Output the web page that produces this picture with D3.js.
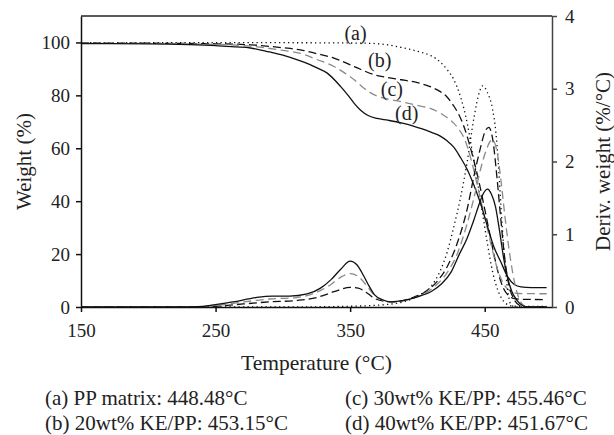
<!DOCTYPE html>
<html>
<head>
<meta charset="utf-8">
<script src="https://cdn.jsdelivr.net/npm/d3@7"></script>
<style>
  body { margin: 0; background: #fff; }
  svg { display: block; font-family: "Liberation Serif", "DejaVu Serif", serif; }
  .axis text { font-size: 19px; fill: #222; font-family: "Liberation Serif", "DejaVu Serif", serif; }
</style>
</head>
<body>
<svg width="614" height="435"></svg>
<script>
// TGA curves, weight (%) vs temperature (°C)
const tgaA = [[150,99.9],[300,99.9],[350,99.8],[363,99.7],[375,99.3],[388,98.1],[395,97.3],[402,96.4],[410,95.0],[417,92.6],[422,89.8],[427,86],[432,79.5],[437,69.5],[441,58],[445,46],[448.5,35],[452,24],[456,13],[460,6],[464,2.2],[468,0.7],[472,0.3],[496,0.2]];
const tgaB = [[150,99.8],[250,99.5],[276,99.1],[300,98],[313,97.2],[325,95.8],[338,94.1],[353,90.9],[368,87.8],[378,86.7],[388,85.9],[400,84.8],[410,83.2],[417,81.4],[422,79.4],[427,76],[431,72.5],[435,67.6],[440,59],[445,49],[450,37],[453,29.5],[456,22],[460,13],[464,7],[468,4.2],[472,3.2],[478,2.9],[496,2.8]];
const tgaC = [[150,99.8],[250,99.3],[276,98.6],[300,97],[313,95.9],[325,93.6],[338,90.9],[345,88.8],[353,85.9],[360,82.8],[368,80.2],[378,78.6],[388,77.6],[400,76.2],[410,75],[417,73.3],[422,71.6],[427,69.5],[431,67],[435,63.5],[440,55.5],[445,45],[450,34],[455,23],[460,13.5],[465,8],[470,5.8],[475,5.1],[496,5]];
const tgaD = [[150,99.6],[200,99.5],[230,99.2],[250,98.8],[265,98.3],[276,97.9],[290,96.4],[300,95.2],[313,93],[325,90.5],[333,88.4],[343,83.3],[348,80.3],[353,77],[358,74.3],[363,72.5],[370,71.3],[378,70.6],[388,69.6],[397,68.4],[403,67.4],[410,66.1],[417,64.6],[422,62.8],[427,60.4],[432,56.5],[437,52],[442,46],[447,39],[452,30.5],[457,22.5],[462,17],[467,11.5],[472,8.5],[477,7.6],[485,7.35],[496,7.3]];

// DTG curves, deriv. weight (%/°C)
const dtgA = [[150,0],[300,0],[350,0.01],[380,0.04],[400,0.15],[410,0.28],[417,0.5],[422,0.75],[427,1.1],[432,1.5],[437,2.0],[442,2.6],[446,2.95],[448.5,3.04],[452,2.95],[455.8,2.72],[458.3,2.4],[460,2.0],[462,1.4],[464,0.85],[466,0.4],[468,0.12],[470,0.02],[474,0],[496,0]];
const dtgB = [[150,0],[230,0],[250,0.01],[263,0.03],[290,0.07],[310,0.09],[325,0.13],[338,0.21],[350,0.27],[356,0.26],[362,0.2],[368,0.12],[375,0.08],[382,0.07],[395,0.12],[405,0.2],[415,0.36],[422,0.55],[430,0.9],[437,1.35],[442,1.8],[447,2.2],[450,2.4],[453,2.47],[456,2.3],[459,1.8],[462,1.2],[465,0.65],[468,0.3],[472,0.1],[476,0.02],[480,0],[496,0]];
const dtgC = [[150,0],[230,0],[250,0.02],[263,0.05],[290,0.11],[310,0.13],[322,0.18],[335,0.3],[344,0.42],[350,0.46],[356,0.42],[362,0.3],[368,0.16],[375,0.09],[382,0.07],[395,0.11],[405,0.18],[415,0.32],[422,0.47],[430,0.75],[437,1.15],[442,1.5],[447,1.9],[451,2.15],[455.5,2.3],[459,2.15],[462,1.75],[465,1.25],[468,0.8],[471,0.45],[474,0.2],[477,0.06],[480,0.01],[483,0],[496,0]];
const dtgD = [[150,0],[230,0],[245,0.02],[263,0.07],[280,0.13],[292,0.15],[305,0.15],[318,0.18],[328,0.26],[336,0.38],[343,0.52],[350,0.63],[355,0.58],[360,0.43],[364,0.29],[368,0.17],[374,0.1],[380,0.07],[390,0.09],[400,0.14],[410,0.21],[418,0.32],[425,0.48],[431,0.72],[437,0.95],[442,1.2],[446,1.42],[449,1.56],[452,1.62],[455,1.55],[458,1.38],[461,1.05],[464,0.68],[467,0.4],[470,0.22],[474,0.09],[478,0.02],[482,0],[496,0]];

const xTicks = [150, 250, 350, 450];
const yTicks = [0, 20, 40, 60, 80, 100];
const y2Ticks = [0, 1, 2, 3, 4];

// curve labels (a)-(d), placed at temperature / weight
const curveLabels = ['(a)', '(b)', '(c)', '(d)'];
const labelT = [354, 372, 381, 392];
const labelW = [103.7, 93.4, 82.3, 73.4];

const legendText = [
    '(a) PP matrix: 448.48\u00b0C',
    '(b) 20wt% KE/PP: 453.15\u00b0C',
    '(c) 30wt% KE/PP: 455.46\u00b0C',
    '(d) 40wt% KE/PP: 451.67\u00b0C'
];

const margin = { top: 16, right: 62, bottom: 128, left: 81 };
const W = 614, H = 435;
const width = W - margin.left - margin.right;
const height = H - margin.top - margin.bottom;

const svg = d3.select('svg');
const g = svg.append('g').attr('transform', `translate(${margin.left},${margin.top})`);

const x = d3.scaleLinear().domain([150, 500]).range([0, width]);
const y = d3.scaleLinear().domain([0, 110]).range([height, 0]);
const y2 = d3.scaleLinear().domain([0, 4]).range([height, 0]);

const lineW = d3.line().x(d => x(d[0])).y(d => y(d[1])).curve(d3.curveMonotoneX);
const lineD = d3.line().x(d => x(d[0])).y(d => y2(d[1])).curve(d3.curveMonotoneX);

// styles per sample
const styles = [
    { color: '#111', dash: '1.3,3.2', w: 1.3 },
    { color: '#111', dash: '8,4', w: 1.3 },
    { color: '#8a8a8a', dash: '8,4.5', w: 1.3 },
    { color: '#111', dash: null, w: 1.3 }
];

const tga = [tgaA, tgaB, tgaC, tgaD];
const dtg = [dtgA, dtgB, dtgC, dtgD];

const drawSeries = (data, gen) => {
    g.selectAll(null).data(data)
        .enter().append('path')
        .attr('d', gen)
        .attr('fill', 'none')
        .attr('stroke', (d, i) => styles[i].color)
        .attr('stroke-width', (d, i) => styles[i].w)
        .attr('stroke-dasharray', (d, i) => styles[i].dash);
};
drawSeries(tga, lineW);
drawSeries(dtg, lineD);

// frame: top line in grey
g.append('line')
    .attr('x1', 0).attr('x2', width).attr('y1', 0).attr('y2', 0)
    .attr('stroke', '#5a5a5a').attr('stroke-width', 1.8);

const xAxis = g.append('g').attr('class', 'axis')
    .attr('transform', `translate(0,${height})`)
    .call(d3.axisBottom(x).tickValues(xTicks).tickSize(5).tickSizeOuter(0).tickPadding(12));

const yAxis = g.append('g').attr('class', 'axis')
    .call(d3.axisLeft(y).tickValues(yTicks).tickSize(5).tickSizeOuter(0).tickPadding(6));

const y2Axis = g.append('g').attr('class', 'axis')
    .attr('transform', `translate(${width},0)`)
    .call(d3.axisRight(y2).tickValues(y2Ticks).tickFormat(d3.format('d'))
        .tickSize(5).tickSizeOuter(0).tickPadding(8));

[xAxis, yAxis, y2Axis].forEach(a => a.attr('font-family', null).attr('font-size', null));
[xAxis, yAxis].forEach(a => a.selectAll('path, line').attr('stroke', '#111').attr('stroke-width', 1.5));
y2Axis.selectAll('path, line').attr('stroke', '#444').attr('stroke-width', 1.5);

// curve labels
g.selectAll('.clab').data(curveLabels)
    .enter().append('text')
    .attr('class', 'clab')
    .attr('x', (d, i) => x(labelT[i]))
    .attr('y', (d, i) => y(labelW[i]))
    .attr('dy', '0.35em')
    .attr('text-anchor', 'middle')
    .attr('font-size', 20)
    .attr('fill', '#222')
    .text(d => d);

// axis titles
svg.append('text')
    .attr('transform', `translate(24,${margin.top + height / 2}) rotate(-90)`)
    .attr('text-anchor', 'middle')
    .attr('dy', '0.35em')
    .attr('font-size', 21).attr('fill', '#222')
    .text('Weight (%)');

svg.append('text')
    .attr('transform', `translate(603,${margin.top + height / 2}) rotate(-90)`)
    .attr('text-anchor', 'middle')
    .attr('dy', '0.35em')
    .attr('font-size', 21).attr('fill', '#222')
    .text('Deriv. weight (%/\u00b0C)');

svg.append('text')
    .attr('x', margin.left + width / 2)
    .attr('y', 370)
    .attr('text-anchor', 'middle')
    .attr('font-size', 21.5).attr('fill', '#222')
    .text('Temperature (\u00b0C)');

// legend below chart, two columns
const legX = [45, 45, 345, 345];
const legY = [405, 430, 405, 430];
svg.selectAll('.leg').data(legendText)
    .enter().append('text')
    .attr('class', 'leg')
    .attr('x', (d, i) => legX[i])
    .attr('y', (d, i) => legY[i])
    .attr('font-size', 21).attr('fill', '#222')
    .text(d => d);
</script>
</body>
</html>
